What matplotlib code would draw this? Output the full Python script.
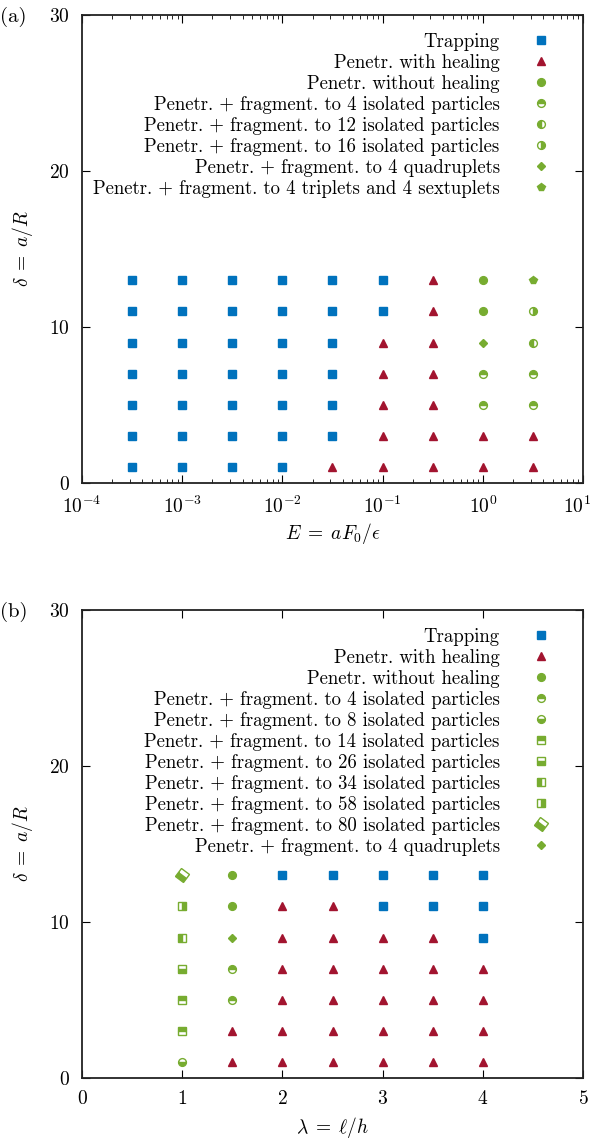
import matplotlib.pyplot as plt
from matplotlib.markers import MarkerStyle
from matplotlib.transforms import Affine2D, ScaledTranslation

plt.rcParams['font.family'] = 'serif'
plt.rcParams['font.serif'] = ['cmr10']
plt.rcParams['mathtext.fontset'] = 'cm'
plt.rcParams['axes.formatter.use_mathtext'] = True

blue = '#0072bd'
red = '#a2142f'
green = '#77ac30'

# ---- panel (a) data: E = aF0/eps, delta = a/R
trap_a_E = [3.16e-4]*7 + [1e-3]*7 + [3.16e-3]*7 + [1e-2]*7 + [3.16e-2]*6 + [0.1]*2
trap_a_d = [1, 3, 5, 7, 9, 11, 13]*4 + [3, 5, 7, 9, 11, 13] + [11, 13]
heal_a_E = [3.16e-2] + [0.1]*5 + [0.316]*7 + [1]*2 + [3.16]*2
heal_a_d = [1] + [1, 3, 5, 7, 9] + [1, 3, 5, 7, 9, 11, 13] + [1, 3] + [1, 3]
nohe_a_E = [1, 1]
nohe_a_d = [11, 13]
f4_a_E = [1, 1, 3.16, 3.16]
f4_a_d = [5, 7, 5, 7]
f12_a_E = [3.16]
f12_a_d = [9]
f16_a_E = [3.16]
f16_a_d = [11]
quad_a_E = [1]
quad_a_d = [9]
trip_a_E = [3.16]
trip_a_d = [13]

# ---- panel (b) data: lambda = l/h, delta = a/R
trap_b_l = [2, 2.5, 3, 3, 3.5, 3.5, 4, 4, 4]
trap_b_d = [13, 13, 11, 13, 11, 13, 9, 11, 13]
heal_b_l = [1.5]*2 + [2]*6 + [2.5]*6 + [3]*5 + [3.5]*5 + [4]*4
heal_b_d = [1, 3] + [1, 3, 5, 7, 9, 11]*2 + [1, 3, 5, 7, 9]*2 + [1, 3, 5, 7]
nohe_b_l = [1.5, 1.5]
nohe_b_d = [11, 13]
f4_b_l = [1.5, 1.5]
f4_b_d = [5, 7]
f8_b_l = [1]
f8_b_d = [1]
f14_b_l = [1, 1]
f14_b_d = [3, 5]
f26_b_l = [1]
f26_b_d = [7]
f34_b_l = [1]
f34_b_d = [9]
f58_b_l = [1]
f58_b_d = [11]
f80_b_l = [1]
f80_b_d = [13]
quad_b_l = [1.5]
quad_b_d = [9]

fig = plt.figure(figsize=(5.94, 11.46), dpi=100)
ax1 = fig.add_axes([82/594, 1-483/1146, 501/594, 468/1146])
ax2 = fig.add_axes([82/594, 1-1078/1146, 501/594, 468/1146])

def pts(ax, x, y, marker, color, fill='full', ms=5.6, label=None):
    ax.plot(x, y, ls='none', marker=marker, ms=ms, color=color, mec=color,
            mfc=color, mfcalt='white', fillstyle=fill, mew=1.0, label=label)

pts(ax1, trap_a_E, trap_a_d, 's', blue, label='Trapping')
pts(ax1, heal_a_E, heal_a_d, '^', red, label='Penetr. with healing')
pts(ax1, nohe_a_E, nohe_a_d, 'o', green, label='Penetr. without healing')
pts(ax1, f4_a_E, f4_a_d, 'o', green, 'top', label='Penetr. + fragment. to 4 isolated particles')
pts(ax1, f12_a_E, f12_a_d, 'o', green, 'left', label='Penetr. + fragment. to 12 isolated particles')
pts(ax1, f16_a_E, f16_a_d, 'o', green, 'right', label='Penetr. + fragment. to 16 isolated particles')
pts(ax1, quad_a_E, quad_a_d, 'D', green, ms=4.2, label='Penetr. + fragment. to 4 quadruplets')
pts(ax1, trip_a_E, trip_a_d, 'p', green, label='Penetr. + fragment. to 4 triplets and 4 sextuplets')

rot = MarkerStyle('s', fillstyle='bottom', transform=Affine2D().rotate_deg(-40))

pts(ax2, trap_b_l, trap_b_d, 's', blue, label='Trapping')
pts(ax2, heal_b_l, heal_b_d, '^', red, label='Penetr. with healing')
pts(ax2, nohe_b_l, nohe_b_d, 'o', green, label='Penetr. without healing')
pts(ax2, f4_b_l, f4_b_d, 'o', green, 'top', label='Penetr. + fragment. to 4 isolated particles')
pts(ax2, f8_b_l, f8_b_d, 'o', green, 'bottom', label='Penetr. + fragment. to 8 isolated particles')
pts(ax2, f14_b_l, f14_b_d, 's', green, 'top', label='Penetr. + fragment. to 14 isolated particles')
pts(ax2, f26_b_l, f26_b_d, 's', green, 'bottom', label='Penetr. + fragment. to 26 isolated particles')
pts(ax2, f34_b_l, f34_b_d, 's', green, 'left', label='Penetr. + fragment. to 34 isolated particles')
pts(ax2, f58_b_l, f58_b_d, 's', green, 'right', label='Penetr. + fragment. to 58 isolated particles')
ax2.plot(f80_b_l, f80_b_d, ls='none', marker=rot, ms=6.8, mec=green, mfc=green,
         mfcalt='white', mew=1.0, label='Penetr. + fragment. to 80 isolated particles')
pts(ax2, quad_b_l, quad_b_d, 'D', green, ms=4.2, label='Penetr. + fragment. to 4 quadruplets')

ax1.set_xscale('log')
ax1.set_xlim(1e-4, 10)
ax1.set_xticks([1e-4, 1e-3, 1e-2, 1e-1, 1, 10])
ax2.set_xlim(0, 5)
ax2.set_xticks([0, 1, 2, 3, 4, 5])

for ax in (ax1, ax2):
    ax.set_ylim(0, 30)
    ax.set_yticks([0, 10, 20, 30])
    ax.tick_params(which='both', direction='in', top=True, right=True,
                   labelsize=14, pad=9)
    ax.tick_params(which='major', length=6)
    ax.tick_params(which='minor', length=3)
    for s in ax.spines.values():
        s.set_linewidth(1.3)
        s.set_color('#222222')
    ax.set_ylabel(r'$\delta\;=\;a/R$', fontsize=14, labelpad=10)
    ax.legend(loc='upper right', bbox_to_anchor=(0.944, 0.962), frameon=False,
              markerfirst=False, fontsize=13.5, labelspacing=0.16,
              handletextpad=1.45, handlelength=1.5, borderaxespad=0,
              borderpad=0, numpoints=1)

ax1.set_xlabel(r'$E\;=\;aF_0/\epsilon$', fontsize=14, labelpad=3)
ax2.set_xlabel(r'$\lambda\;=\;\ell/h$', fontsize=14, labelpad=5)

# keep the 10^1 label inside the figure
fig.canvas.draw()
last = ax1.get_xticklabels()[-1]
last.set_transform(last.get_transform() + ScaledTranslation(-6/100, 0, fig.dpi_scale_trans))

fig.text(0.0, 1-17/1146, '(a)', fontsize=15, va='center', ha='left')
fig.text(0.0, 1-612/1146, '(b)', fontsize=15, va='center', ha='left')

fig.savefig('out.png', dpi=100)
